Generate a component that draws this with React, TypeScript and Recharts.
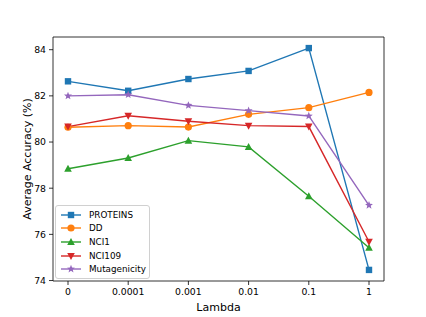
import { LineChart, Line, XAxis, YAxis, Legend, Label } from 'recharts';

const lambdas = ['0', '0.0001', '0.001', '0.01', '0.1', '1'];
const proteins = [82.63, 82.22, 82.73, 83.08, 84.07, 74.46];
const dd = [80.64, 80.71, 80.65, 81.2, 81.49, 82.15];
const nci1 = [78.84, 79.31, 80.06, 79.79, 77.65, 75.42];
const nci109 = [80.67, 81.14, 80.9, 80.71, 80.67, 75.68];
const mutagenicity = [82.0, 82.05, 81.59, 81.36, 81.13, 77.26];
const yTicks = [74, 76, 78, 80, 82, 84];

const series = [
  { key: 'proteins', name: 'PROTEINS', color: '#1f77b4', shape: 'square' },
  { key: 'dd', name: 'DD', color: '#ff7f0e', shape: 'circle' },
  { key: 'nci1', name: 'NCI1', color: '#2ca02c', shape: 'up' },
  { key: 'nci109', name: 'NCI109', color: '#d62728', shape: 'down' },
  { key: 'mutagenicity', name: 'Mutagenicity', color: '#9467bd', shape: 'star' },
];

const data = lambdas.map((l, i) => ({
  lambda: l,
  proteins: proteins[i],
  dd: dd[i],
  nci1: nci1[i],
  nci109: nci109[i],
  mutagenicity: mutagenicity[i],
}));

const font = 'DejaVu Sans, sans-serif';

function starPath(cx: number, cy: number, R: number, r: number) {
  const pts: string[] = [];
  for (let i = 0; i < 10; i++) {
    const rad = i % 2 === 0 ? R : r;
    const a = -Math.PI / 2 + (i * Math.PI) / 5;
    pts.push(`${cx + rad * Math.cos(a)},${cy + rad * Math.sin(a)}`);
  }
  return `M${pts.join('L')}Z`;
}

function Marker({ cx, cy, shape, color }: { cx: number; cy: number; shape: string; color: string }) {
  if (cx == null || cy == null) return null;
  if (shape === 'square') return <rect x={cx - 3.2} y={cy - 3.2} width={6.4} height={6.4} fill={color} />;
  if (shape === 'circle') return <circle cx={cx} cy={cy} r={3.6} fill={color} />;
  if (shape === 'up') return <path d={`M${cx},${cy - 4}L${cx + 3.8},${cy + 3}L${cx - 3.8},${cy + 3}Z`} fill={color} />;
  if (shape === 'down') return <path d={`M${cx},${cy + 4}L${cx + 3.8},${cy - 3}L${cx - 3.8},${cy - 3}Z`} fill={color} />;
  return <path d={starPath(cx, cy, 4.2, 1.8)} fill={color} />;
}

function LegendBox() {
  return (
    <div
      style={{
        border: '1px solid #d0d0d0',
        borderRadius: 3,
        background: 'rgba(255,255,255,0.8)',
        padding: '2px 3px 2px 4px',
        fontFamily: font,
        fontSize: 8.8,
        color: '#000',
      }}
    >
      {series.map((s) => (
        <div key={s.key} style={{ display: 'flex', alignItems: 'center', height: 13.6 }}>
          <svg width={22} height={12} style={{ marginRight: 7 }}>
            <line x1={1} y1={6} x2={21} y2={6} stroke={s.color} strokeWidth={1.4} />
            <Marker cx={11} cy={6} shape={s.shape} color={s.color} />
          </svg>
          <span>{s.name}</span>
        </div>
      ))}
    </div>
  );
}

export default function App() {
  return (
    <div style={{ position: 'absolute', left: 0, top: 0, background: '#fff' }}>
      <LineChart width={426} height={317} data={data} margin={{ top: 36, right: 41, left: 0, bottom: 0 }}>
        <XAxis
          dataKey="lambda"
          padding={{ left: 15, right: 15 }}
          tickSize={4}
          tickMargin={3}
          height={36}
          stroke="#000"
          tick={{ fill: '#000', fontSize: 9.3, fontFamily: font }}
          axisLine={{ stroke: '#000', strokeWidth: 0.8 }}
          tickLine={{ stroke: '#000', strokeWidth: 0.8 }}
        >
          <Label value="Lambda" position="insideBottom" offset={6} style={{ fill: '#000', fontSize: 11, fontFamily: font }} />
        </XAxis>
        <XAxis
          xAxisId="top"
          dataKey="lambda"
          orientation="top"
          padding={{ left: 15, right: 15 }}
          height={1}
          tick={false}
          tickLine={false}
          axisLine={{ stroke: '#000', strokeWidth: 0.8 }}
        />
        <YAxis
          domain={[73.98, 84.55]}
          ticks={yTicks}
          width={53}
          tickSize={4}
          tickMargin={3}
          tick={{ fill: '#000', fontSize: 9.3, fontFamily: font }}
          axisLine={{ stroke: '#000', strokeWidth: 0.8 }}
          tickLine={{ stroke: '#000', strokeWidth: 0.8 }}
          allowDataOverflow
        >
          <Label
            content={({ viewBox }: any) => {
              const cy = viewBox.y + viewBox.height / 2;
              const cx = 27;
              return (
                <text
                  x={cx}
                  y={cy}
                  transform={`rotate(-90 ${cx} ${cy})`}
                  textAnchor="middle"
                  dominantBaseline="central"
                  style={{ fill: '#000', fontSize: 11, fontFamily: font }}
                >
                  Average Accuracy (%)
                </text>
              );
            }}
          />
        </YAxis>
        <YAxis
          yAxisId="right"
          orientation="right"
          domain={[73.98, 84.55]}
          width={1}
          tick={false}
          tickLine={false}
          axisLine={{ stroke: '#000', strokeWidth: 0.8 }}
        />
        {series.map((s) => (
          <Line
            key={s.key}
            dataKey={s.key}
            name={s.name}
            stroke={s.color}
            strokeWidth={1.4}
            isAnimationActive={false}
            dot={(p: any) => <Marker key={`${s.key}-${p.index}`} cx={p.cx} cy={p.cy} shape={s.shape} color={s.color} />}
            activeDot={false}
          />
        ))}
        <Legend
          layout="vertical"
          align="center"
          verticalAlign="middle"
          content={() => <LegendBox />}
          wrapperStyle={{ position: 'absolute', left: 55, top: 205, width: 'auto', height: 'auto' }}
        />
      </LineChart>
    </div>
  );
}
